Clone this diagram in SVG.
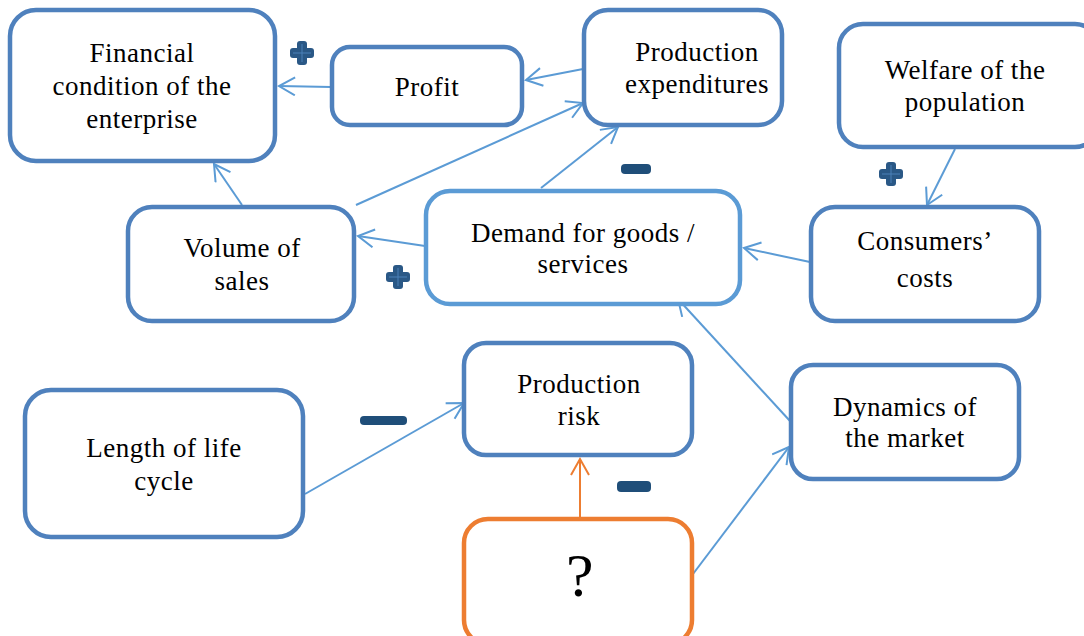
<svg xmlns="http://www.w3.org/2000/svg" width="1084" height="636" viewBox="0 0 1084 636">
<style>
.box{fill:#fff;stroke:#4f81bd;stroke-width:4.5}
.box2{fill:#fff;stroke:#5b9bd5;stroke-width:4.5}
.box3{fill:#fff;stroke:#ed7d31;stroke-width:4.5}
.t{font-family:"Liberation Serif","Times New Roman",serif;font-size:27px;fill:#000;text-anchor:middle;letter-spacing:0.5px}
.c{fill:none;stroke:#5b9bd5;stroke-width:2}
.co{fill:none;stroke:#ed7d31;stroke-width:2}
.sign{fill:#2a5886}
.minus{fill:#1f4e79}
</style>
<defs>
<marker id="a" markerUnits="userSpaceOnUse" markerWidth="22" markerHeight="22" refX="17" refY="10" orient="auto">
<path d="M1,1 L17,10 L1,19" fill="none" stroke="#5b9bd5" stroke-width="2"/>
</marker>
<marker id="ao" markerUnits="userSpaceOnUse" markerWidth="22" markerHeight="22" refX="17" refY="10" orient="auto">
<path d="M1,1 L17,10 L1,19" fill="none" stroke="#ed7d31" stroke-width="2"/>
</marker>
<g id="plus">
<rect x="-12" y="-5" width="24" height="10" rx="3" class="sign"/>
<rect x="-5" y="-12" width="10" height="24" rx="3" class="sign"/>
<path d="M-9,0 H9 M0,-9 V9" stroke="#4a80b8" stroke-width="1"/>
</g>
</defs>

<g id="connectors">
<line class="c" x1="331" y1="87" x2="279" y2="86" marker-end="url(#a)"/>
<line class="c" x1="583" y1="69" x2="526" y2="80" marker-end="url(#a)"/>
<line class="c" x1="242" y1="205" x2="214" y2="164" marker-end="url(#a)"/>
<line class="c" x1="356" y1="205" x2="583" y2="103" marker-end="url(#a)"/>
<line class="c" x1="541" y1="188" x2="618" y2="127" marker-end="url(#a)"/>
<line class="c" x1="425" y1="246" x2="358" y2="236" marker-end="url(#a)"/>
<line class="c" x1="810" y1="262" x2="744" y2="248" marker-end="url(#a)"/>
<line class="c" x1="955" y1="149" x2="927" y2="205" marker-end="url(#a)"/>
<line class="c" x1="790" y1="421" x2="678" y2="299" marker-end="url(#a)"/>
<line class="c" x1="305" y1="494" x2="464" y2="403" marker-end="url(#a)"/>
<line class="c" x1="693" y1="574" x2="789" y2="447" marker-end="url(#a)"/>
<line class="co" x1="580" y1="518" x2="580" y2="459" marker-end="url(#ao)"/>
</g>

<g id="signs">
<use href="#plus" x="302" y="53"/>
<use href="#plus" x="398" y="277"/>
<use href="#plus" x="891" y="174"/>
<rect class="minus" x="621" y="164" width="30" height="10" rx="4"/>
<rect class="minus" x="360" y="416" width="47" height="9" rx="4"/>
<rect class="minus" x="617" y="481" width="34" height="11" rx="4"/>
</g>

<g id="financial">
<rect class="box" x="10" y="10" width="265" height="151" rx="26"/>
<text class="t" x="142" y="62">Financial</text>
<text class="t" x="142" y="95">condition of the</text>
<text class="t" x="142" y="128">enterprise</text>
</g>
<g id="profit">
<rect class="box" x="332" y="47" width="190" height="78" rx="18"/>
<text class="t" x="427" y="96">Profit</text>
</g>
<g id="expenditures">
<rect class="box" x="584" y="10" width="198" height="115" rx="24"/>
<text class="t" x="697" y="61">Production</text>
<text class="t" x="697" y="93">expenditures</text>
</g>
<g id="welfare">
<rect class="box" x="839" y="24" width="260" height="123" rx="24"/>
<text class="t" x="965" y="79">Welfare of the</text>
<text class="t" x="965" y="111">population</text>
</g>
<g id="volume">
<rect class="box" x="128" y="207" width="226" height="114" rx="24"/>
<text class="t" x="242" y="257">Volume of</text>
<text class="t" x="242" y="290">sales</text>
</g>
<g id="demand">
<rect class="box2" x="426" y="191" width="314" height="113" rx="24"/>
<text class="t" x="583" y="242">Demand for goods /</text>
<text class="t" x="583" y="273">services</text>
</g>
<g id="consumers">
<rect class="box" x="811" y="207" width="228" height="114" rx="24"/>
<text class="t" x="925" y="250">Consumers’</text>
<text class="t" x="925" y="287">costs</text>
</g>
<g id="risk">
<rect class="box" x="464" y="343" width="228" height="112" rx="22"/>
<text class="t" x="579" y="393">Production</text>
<text class="t" x="579" y="425">risk</text>
</g>
<g id="lifecycle">
<rect class="box" x="25" y="390" width="278" height="147" rx="26"/>
<text class="t" x="164" y="457">Length of life</text>
<text class="t" x="164" y="490">cycle</text>
</g>
<g id="dynamics">
<rect class="box" x="791" y="365" width="228" height="114" rx="22"/>
<text class="t" x="905" y="416">Dynamics of</text>
<text class="t" x="905" y="447">the market</text>
</g>
<g id="question">
<rect class="box3" x="464" y="519" width="228" height="125" rx="24"/>
<text class="t" x="580" y="596" style="font-size:62px">?</text>
</g>
</svg>
